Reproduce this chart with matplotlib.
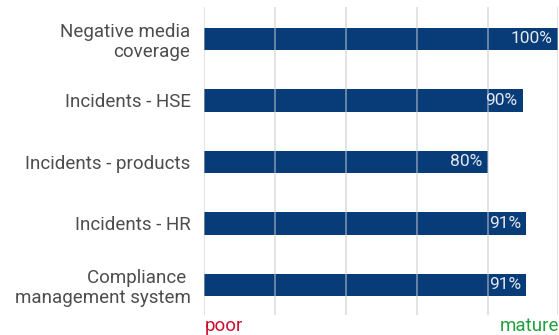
import matplotlib
matplotlib.use("Agg")
import matplotlib.pyplot as plt

categories = [
    "Negative media\ncoverage",
    "Incidents - HSE",
    "Incidents - products",
    "Incidents - HR",
    "Compliance \nmanagement system",
]
values = [100, 90, 80, 91, 91]
value_labels = ["100%", "90%", "80%", "91%", "91%"]
grid_ticks = [0, 20, 40, 60, 80, 100]
scale_left = "poor"
scale_right = "mature"

W, H, DPI = 559, 335, 100
plt.rcParams["font.family"] = ["Roboto", "DejaVu Sans"]

fig = plt.figure(figsize=(W / DPI, H / DPI), dpi=DPI)
ax = fig.add_axes([204.3 / W, 1 - 315 / H, 354 / W, 308 / H])

bar_color = "#073c78"
ypos = list(range(len(categories)))
ax.barh(ypos, values, height=0.37, color=bar_color, zorder=2)

# Light vertical gridlines drawn over the bars
for x in grid_ticks:
    ax.axvline(x, color="#c4c8cc", lw=1.1, alpha=0.65, zorder=3)

ax.set_xlim(0, 100)
ax.set_ylim(4.49, -0.52)

# Value labels placed inside the end of each bar
for y, v, lab in zip(ypos, values, value_labels):
    ax.annotate(lab, xy=(v, y), xytext=(-4, 0), textcoords="offset points",
                ha="right", va="center", color="#e4e9ef", fontsize=12.5, zorder=4)

ax.set_yticks(ypos)
ax.set_yticklabels(categories, fontsize=13.5, color="#4d4d4d", linespacing=1.15)
ax.tick_params(axis="y", length=0, pad=10)
ax.set_xticks([])
for s in ax.spines.values():
    s.set_visible(False)

# Scale end markers under the axis
fig.text(204.3 / W, 1 - 326 / H, scale_left, color="#c8102e", fontsize=13.5,
         ha="left", va="center")
fig.text(558.8 / W, 1 - 326 / H, scale_right, color="#22a03c", fontsize=13.5,
         ha="right", va="center")

fig.savefig("out.png", dpi=DPI, facecolor="white")
